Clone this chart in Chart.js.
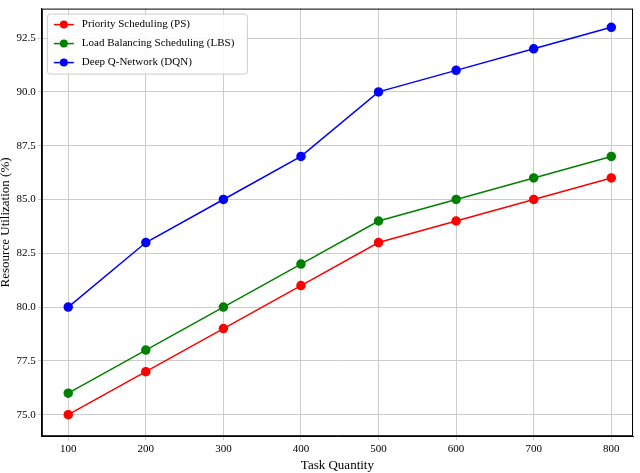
<!DOCTYPE html>
<html><head><script src="https://cdn.jsdelivr.net/npm/chart.js@4"></script>
<style>body{margin:0;background:#fff}#w{width:640px;height:473px}</style></head>
<body><div id="w"><canvas id="c"></canvas></div>
<script>
const taskQuantity=[100,200,300,400,500,600,700,800];
const psValues=[75,77,79,81,83,84,85,86];
const lbsValues=[76,78,80,82,84,85,86,87];
const dqnValues=[80,83,85,87,90,91,92,93];
const yTicks=[75,77.5,80,82.5,85,87.5,90,92.5];
const seriesNames=['Priority Scheduling (PS)','Load Balancing Scheduling (LBS)','Deep Q-Network (DQN)'];
const colors=['#ff0000','#008000','#0000ff'];
const F="'Liberation Serif', 'Times New Roman', serif";
const mk=(i,v)=>({label:seriesNames[i],data:taskQuantity.map((x,j)=>({x,y:v[j]})),borderColor:colors[i],backgroundColor:colors[i],borderWidth:1.5,pointRadius:4,pointHoverRadius:4,tension:0});
const legendPlugin={id:'lg',afterDraw(ch){const c=ch.ctx,a=ch.chartArea;
c.save();c.strokeStyle='#000';c.lineWidth=1;c.strokeRect(a.left+.5,a.top+.5,a.right-a.left-1,a.bottom-a.top-1);
const x0=a.left+5,y0=a.top+5,w=200,h=60;
c.fillStyle='rgba(255,255,255,0.85)';c.strokeStyle='#ccc';c.beginPath();c.roundRect(x0+.5,y0+.5,w,h,3);c.fill();c.stroke();
c.font="11px "+F;c.textBaseline='middle';
ch.data.datasets.forEach((d,i)=>{const y=y0+11+i*19;c.strokeStyle=d.borderColor;c.lineWidth=1.5;c.beginPath();c.moveTo(x0+7,y);c.lineTo(x0+27,y);c.stroke();
c.fillStyle=d.borderColor;c.beginPath();c.arc(x0+17,y,4,0,7);c.fill();c.fillStyle='#000';c.fillText(d.label,x0+35,y);});c.restore();}};
new Chart(document.getElementById('c'),{type:'line',data:{datasets:[mk(0,psValues),mk(1,lbsValues),mk(2,dqnValues)]},
options:{responsive:true,maintainAspectRatio:false,animation:false,layout:{padding:{top:1,right:7,left:-2,bottom:0}},
plugins:{legend:{display:false},tooltip:{enabled:false}},
scales:{x:{type:'linear',min:66,max:828,afterBuildTicks(s){s.ticks=taskQuantity.map(v=>({value:v}));},
grid:{color:'#cccccc',tickLength:4},border:{color:'#000'},ticks:{color:'#000',font:{family:F,size:11},padding:2},
title:{display:true,text:'Task Quantity',color:'#000',font:{family:F,size:13},padding:{top:0,bottom:0}}},
y:{min:74.0,max:93.87,afterBuildTicks(s){s.ticks=yTicks.map(v=>({value:v}));},
grid:{color:'#cccccc',tickLength:4},border:{color:'#000'},ticks:{color:'#000',font:{family:F,size:11},padding:2,callback:v=>v.toFixed(1)},
title:{display:true,text:'Resource Utilization (%)',color:'#000',font:{family:F,size:13},padding:{top:0,bottom:1}}}}},
plugins:[legendPlugin]});
</script></body></html>
